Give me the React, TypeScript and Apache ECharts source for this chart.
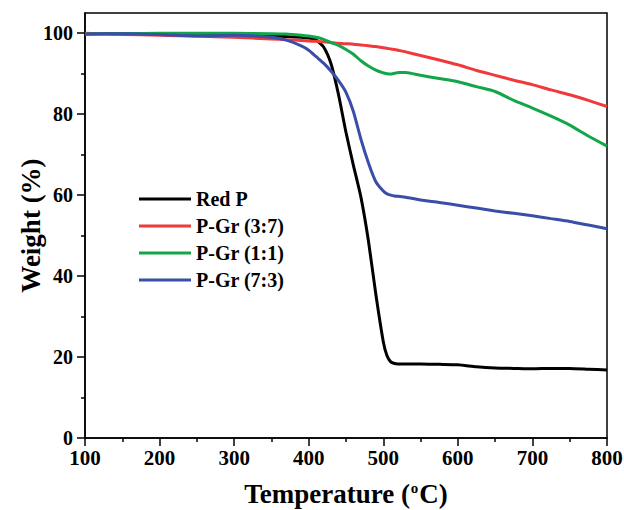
import React, { useEffect, useRef } from 'react';
import * as echarts from 'echarts';

const temperatures = [100, 150, 200, 250, 300, 350, 370, 390, 400, 410, 420, 430, 440, 450, 460, 470, 480, 490, 500, 505, 510, 515, 520, 530, 550, 575, 600, 625, 650, 675, 700, 725, 750, 775, 800];

const redP = [99.8, 99.9, 99.8, 99.7, 99.5, 99.3, 99.2, 99.0, 98.8, 98.3, 96.6, 92.4, 84.8, 75.5, 67.3, 59.5, 48.8, 35.5, 23.8, 20.3, 18.8, 18.4, 18.3, 18.3, 18.3, 18.2, 18.1, 17.6, 17.3, 17.2, 17.1, 17.2, 17.2, 17.0, 16.8];
const pGr37 = [100.0, 99.7, 99.5, 99.3, 99.0, 98.6, 98.4, 98.2, 98.1, 98.0, 97.9, 97.7, 97.5, 97.4, 97.3, 97.1, 96.9, 96.7, 96.4, 96.3, 96.1, 96.0, 95.8, 95.4, 94.5, 93.4, 92.2, 90.8, 89.6, 88.4, 87.3, 86.0, 84.8, 83.4, 81.9];
const pGr11 = [99.8, 99.9, 100.0, 100.0, 100.0, 99.9, 99.8, 99.5, 99.3, 99.0, 98.5, 97.7, 97.0, 96.0, 94.8, 93.2, 91.9, 90.9, 90.2, 90.0, 89.9, 90.1, 90.3, 90.3, 89.6, 88.8, 88.0, 86.8, 85.6, 83.4, 81.5, 79.5, 77.3, 74.6, 72.1];
const pGr73 = [99.8, 99.9, 99.7, 99.3, 99.5, 99.0, 98.3, 96.9, 95.8, 94.2, 92.6, 90.6, 88.3, 85.4, 80.6, 73.8, 68.0, 63.3, 61.0, 60.3, 60.0, 59.8, 59.7, 59.5, 58.8, 58.2, 57.5, 56.8, 56.1, 55.5, 54.9, 54.2, 53.5, 52.6, 51.7];

const seriesNames = ['Red P', 'P-Gr (3:7)', 'P-Gr (1:1)', 'P-Gr (7:3)'];
const seriesValues = [redP, pGr37, pGr11, pGr73];
const seriesColors = ['#000000', '#f03a3a', '#12a64a', '#3a4ea8'];

const yTicks = [0, 20, 40, 60, 80, 100];
const yMinorTicks = [10, 30, 50, 70, 90];

export default function App() {
  const ref = useRef<HTMLDivElement>(null);
  useEffect(() => {
    const chart = echarts.init(ref.current!, null, { renderer: 'svg' });
    const font = "'Liberation Serif', 'Times New Roman', serif";
    const tickLine = { color: '#000', width: 1.5 };
    chart.setOption({
      animation: false,
      backgroundColor: '#fff',
      grid: { left: 85, right: 17, top: 13, bottom: 72, show: true, borderColor: '#000', borderWidth: 1.5, backgroundColor: 'transparent', containLabel: false, outerBoundsMode: 'none' },
      legend: {
        data: seriesNames,
        orient: 'vertical',
        left: 139,
        top: 189,
        padding: 0,
        itemWidth: 52,
        itemHeight: 3,
        itemGap: 7,
        icon: 'rect',
        textStyle: { fontSize: 20, fontWeight: 'bold', fontFamily: font, color: '#000' },
      },
      xAxis: {
        type: 'value',
        min: 100,
        max: 800,
        interval: 100,
        axisLine: { show: true, lineStyle: tickLine },
        axisTick: { show: true, length: 8, lineStyle: tickLine },
        minorTick: { show: true, splitNumber: 2, length: 4, lineStyle: tickLine },
        splitLine: { show: false },
        minorSplitLine: { show: false },
        axisLabel: { fontSize: 21, fontWeight: 'bold', fontFamily: font, color: '#000', margin: 9 },
        name: 'Temperature ({sup|o}C)',
        nameLocation: 'middle',
        nameGap: 42,
        nameMoveOverlap: false,
        nameTextStyle: {
          fontSize: 27, fontWeight: 'bold', fontFamily: font, color: '#000',
          rich: { sup: { fontSize: 15, fontWeight: 'bold', fontFamily: font, color: '#000', verticalAlign: 'top', padding: [0, 1, 10, 1] } },
        },
      },
      yAxis: [
        {
          type: 'value',
          min: 0,
          max: 105,
          position: 'left',
          axisLine: { show: true, lineStyle: tickLine },
          axisTick: { show: true, length: 8, lineStyle: tickLine, customValues: yTicks },
          axisLabel: { fontSize: 20, fontWeight: 'bold', fontFamily: font, color: '#000', margin: 12, customValues: yTicks },
          splitLine: { show: false },
          name: 'Weight (%)',
          nameLocation: 'middle',
          nameGap: 41,
          nameMoveOverlap: false,
          nameTextStyle: { fontSize: 27, fontWeight: 'bold', fontFamily: font, color: '#000' },
        },
        {
          type: 'value',
          min: 0,
          max: 105,
          position: 'left',
          offset: 0,
          axisLine: { show: false },
          axisTick: { show: true, length: 4, lineStyle: tickLine, customValues: yMinorTicks },
          axisLabel: { show: false, customValues: yMinorTicks },
          splitLine: { show: false },
        },
      ],
      series: seriesNames.map((name, k) => ({
        name,
        type: 'line',
        yAxisIndex: 0,
        showSymbol: false,
        symbol: 'none',
        smooth: 0.2,
        color: seriesColors[k],
        lineStyle: { width: 3, color: seriesColors[k] },
        data: temperatures.map((t, i) => [t, seriesValues[k][i]]),
      })),
    });
    return () => chart.dispose();
  }, []);
  return <div ref={ref} style={{ position: 'fixed', left: 0, top: 0, width: 624, height: 510 }} />;
}
